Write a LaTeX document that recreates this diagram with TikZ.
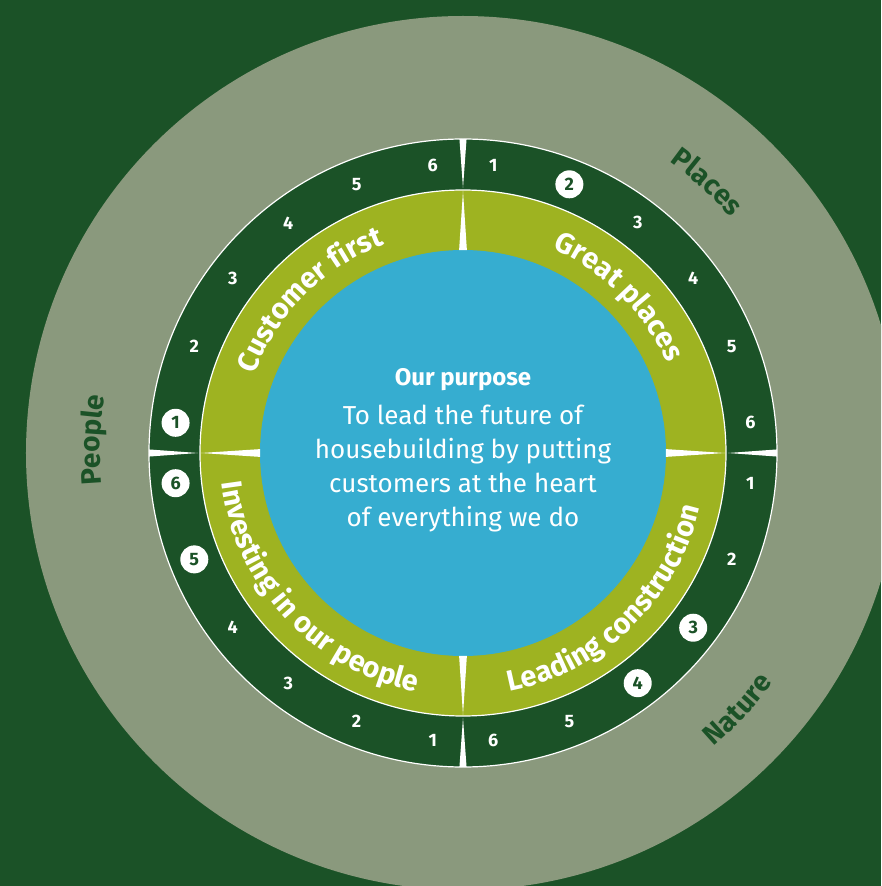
\documentclass[tikz,border=0pt]{standalone}
\usepackage{fontspec}
\setmainfont{Fira Sans}
\usetikzlibrary{decorations.text}
\definecolor{forest}{HTML}{1B5227}
\definecolor{sage}{HTML}{8A997D}
\definecolor{lime}{HTML}{9EB321}
\definecolor{sky}{HTML}{36ADD0}
\tikzset{
  num/.style={text=white,font=\bfseries\fontsize{18}{18}\selectfont,inner sep=0pt},
  numc/.style={num,fill=white,circle,text=forest,minimum size=28pt},
  gap/.style={fill=white},
  rim/.style={draw=white,line width=1.2pt}
}

\begin{document}
\begin{tikzpicture}[x=1pt,y=1pt]
\useasboundingbox (-463,-433) rectangle (418,453);
\clip (-463,-433) rectangle (418,453);
\fill[forest] (-463,-433) rectangle (418,453);
\fill[sage] (0,0) circle[radius=437pt];
\fill[forest] (0,0) circle[radius=314pt];
\draw[rim] (0,0) circle[radius=314pt];
\fill[lime] (0,0) circle[radius=263pt];
\draw[rim] (0,0) circle[radius=263pt];
\fill[sky] (0,0) circle[radius=203pt];
\foreach \a in {0,90,180,270} {
		\fill[gap] (\a-0.65:314pt) -- (\a+0.65:314pt) -- (\a:265pt) -- cycle;
		\fill[gap] (\a-1.1:203pt) -- (\a+1.1:203pt) -- (\a:262pt) -- cycle;
}
\foreach \s/\styles in {90/{num,numc,num,num,num,num}, 0/{num,num,numc,numc,num,num}, -90/{num,num,num,num,numc,numc}, 180/{numc,num,num,num,num,num}} {
		\foreach \sty [count=\k] in \styles {
				\node[\sty] (n\s-\k) at ({\s-6-15.6*(\k-1)}:289pt) {\k};
		}
}
\path[decorate,decoration={text along path,text align=center,text color=white,text={|\bfseries\fontsize{29}{29}\selectfont|Customer first}}] (178:223pt) arc[start angle=178,end angle=92,radius=223pt];
\path[decorate,decoration={text along path,text align=center,text color=white,text={|\bfseries\fontsize{29}{29}\selectfont|Great places}}] (88:223pt) arc[start angle=88,end angle=2,radius=223pt];
\path[decorate,decoration={text along path,text align=center,text color=white,text={|\bfseries\fontsize{29}{29}\selectfont|Investing in our people}}] (181:243pt) arc[start angle=181,end angle=265,radius=243pt];
\path[decorate,decoration={text along path,text align=center,text color=white,text={|\bfseries\fontsize{29}{29}\selectfont|Leading construction}}] (-89:243pt) arc[start angle=-89,end angle=-3,radius=243pt];
\path[decorate,decoration={text along path,text align=center,text color=forest,text={|\bfseries\fontsize{28}{28}\selectfont|Places}}] (88:357pt) arc[start angle=88,end angle=8,radius=357pt];
\path[decorate,decoration={text along path,text align=center,text color=forest,text={|\bfseries\fontsize{28}{28}\selectfont|People}}] (218:363pt) arc[start angle=218,end angle=138,radius=363pt];
\path[decorate,decoration={text along path,text align=center,text color=forest,text={|\bfseries\fontsize{28}{28}\selectfont|Nature}}] (-83:386pt) arc[start angle=-83,end angle=-3,radius=386pt];
\node[text=white,font=\bfseries\fontsize{24}{24}\selectfont] (title) at (0,73) {Our purpose};
\node[text=white,align=center,font=\fontsize{26}{34}\selectfont] (purpose) at (0,-16) {To lead the future of\\housebuilding by putting\\customers at the heart\\of everything we do};
\end{tikzpicture}
\end{document}
